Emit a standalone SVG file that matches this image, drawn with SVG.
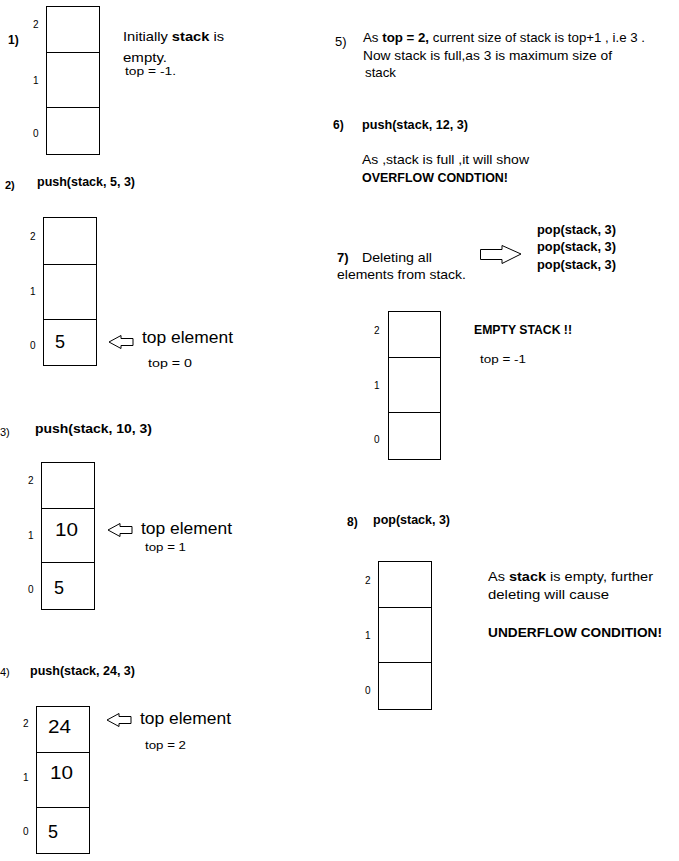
<svg xmlns="http://www.w3.org/2000/svg" width="679" height="861" viewBox="0 0 679 861">
<style>
text{font-family:"Liberation Sans",Arial,sans-serif;fill:#000}
.t{font-size:13px}
.b{font-weight:bold}
.h{font-size:12px;font-weight:bold}
.i{font-size:10px}
.v{font-size:18px}
.te{font-size:17px}
.s{font-size:11px}
.cell{fill:#fff;stroke:#000;stroke-width:1}
.arr{fill:#fff;stroke:#000;stroke-width:1}
</style>
<rect width="679" height="861" fill="#fff"/>

<g id="step1">
<text class="h" x="8" y="44">1)</text>
<rect class="cell" x="46.5" y="6.5" width="53" height="148"/>
<line x1="46.5" y1="52.5" x2="99.5" y2="52.5" stroke="#000"/>
<line x1="46.5" y1="107.5" x2="99.5" y2="107.5" stroke="#000"/>
<text class="i" x="33" y="28">2</text>
<text class="i" x="33" y="84">1</text>
<text class="i" x="33" y="137">0</text>
<text class="t" x="123" y="41" textLength="101" lengthAdjust="spacingAndGlyphs">Initially <tspan class="b">stack</tspan> is</text>
<text class="t" x="123" y="62" textLength="44" lengthAdjust="spacingAndGlyphs">empty.</text>
<text class="s" x="125" y="75" textLength="51" lengthAdjust="spacingAndGlyphs">top = -1.</text>
</g>

<g id="step2">
<text class="s b" x="5" y="189">2)</text>
<text class="h" x="37" y="186" textLength="98" lengthAdjust="spacingAndGlyphs">push(stack, 5, 3)</text>
<rect class="cell" x="43.5" y="217.5" width="53" height="148"/>
<line x1="43.5" y1="264.5" x2="96.5" y2="264.5" stroke="#000"/>
<line x1="43.5" y1="319.5" x2="96.5" y2="319.5" stroke="#000"/>
<text class="i" x="30" y="240">2</text>
<text class="i" x="30" y="295">1</text>
<text class="i" x="30" y="349">0</text>
<text class="v" x="55" y="348">5</text>
<text class="te" x="142" y="343" textLength="91" lengthAdjust="spacingAndGlyphs">top element</text>
<text class="s" x="148" y="367" textLength="44" lengthAdjust="spacingAndGlyphs">top = 0</text>
</g>

<g id="step3">
<text class="s" x="0" y="436">3)</text>
<text class="h" x="35" y="433" textLength="117" lengthAdjust="spacingAndGlyphs">push(stack, 10, 3)</text>
<rect class="cell" x="41.5" y="462.5" width="53" height="147"/>
<line x1="41.5" y1="508.5" x2="94.5" y2="508.5" stroke="#000"/>
<line x1="41.5" y1="562.5" x2="94.5" y2="562.5" stroke="#000"/>
<text class="i" x="28" y="484">2</text>
<text class="i" x="28" y="539">1</text>
<text class="i" x="28" y="593">0</text>
<text class="v" x="55" y="536" textLength="23" lengthAdjust="spacingAndGlyphs">10</text>
<text class="v" x="54" y="594">5</text>
<text class="te" x="141" y="534" textLength="91" lengthAdjust="spacingAndGlyphs">top element</text>
<text class="s" x="145" y="551" textLength="41" lengthAdjust="spacingAndGlyphs">top = 1</text>
</g>

<g id="step4">
<text class="s" x="0" y="676">4)</text>
<text class="h" x="30" y="675" textLength="105" lengthAdjust="spacingAndGlyphs">push(stack, 24, 3)</text>
<rect class="cell" x="36.5" y="706.5" width="53" height="147"/>
<line x1="36.5" y1="752.5" x2="89.5" y2="752.5" stroke="#000"/>
<line x1="36.5" y1="807.5" x2="89.5" y2="807.5" stroke="#000"/>
<text class="i" x="23" y="727">2</text>
<text class="i" x="23" y="781">1</text>
<text class="i" x="23" y="835">0</text>
<text class="v" x="48" y="733" textLength="23" lengthAdjust="spacingAndGlyphs">24</text>
<text class="v" x="50" y="779" textLength="23" lengthAdjust="spacingAndGlyphs">10</text>
<text class="v" x="48" y="838">5</text>
<text class="te" x="140" y="724" textLength="91" lengthAdjust="spacingAndGlyphs">top element</text>
<text class="s" x="145" y="749" textLength="41" lengthAdjust="spacingAndGlyphs">top = 2</text>
</g>

<g id="step5">
<text class="t" x="335" y="46">5)</text>
<text class="t" x="363" y="42" textLength="282" lengthAdjust="spacingAndGlyphs">As <tspan class="b">top = 2,</tspan> current size of stack is top+1 , i.e 3 .</text>
<text class="t" x="363" y="60" textLength="249" lengthAdjust="spacingAndGlyphs">Now stack is full,as  3 is maximum size of</text>
<text class="t" x="365" y="77" textLength="31" lengthAdjust="spacingAndGlyphs">stack</text>
</g>

<g id="step6">
<text class="h" x="333" y="129">6)</text>
<text class="h" x="362" y="129" textLength="106" lengthAdjust="spacingAndGlyphs">push(stack, 12, 3)</text>
<text class="t" x="362" y="164" textLength="167" lengthAdjust="spacingAndGlyphs">As ,stack is full ,it will show</text>
<text class="t b" x="362" y="182" textLength="146" lengthAdjust="spacingAndGlyphs">OVERFLOW CONDTION!</text>
</g>

<g id="step7">
<text class="h" x="537" y="234" textLength="79" lengthAdjust="spacingAndGlyphs">pop(stack, 3)</text>
<text class="h" x="537" y="251" textLength="79" lengthAdjust="spacingAndGlyphs">pop(stack, 3)</text>
<text class="h" x="537" y="269" textLength="79" lengthAdjust="spacingAndGlyphs">pop(stack, 3)</text>
<text class="t" x="337" y="262"><tspan class="b">7)</tspan></text>
<text class="t" x="362" y="262" textLength="70" lengthAdjust="spacingAndGlyphs">Deleting all</text>
<text class="t" x="337" y="279" textLength="129" lengthAdjust="spacingAndGlyphs">elements from stack.</text>
<rect class="cell" x="388.5" y="311.5" width="52" height="148"/>
<line x1="388.5" y1="357.5" x2="440.5" y2="357.5" stroke="#000"/>
<line x1="388.5" y1="412.5" x2="440.5" y2="412.5" stroke="#000"/>
<text class="i" x="374" y="334">2</text>
<text class="i" x="374" y="389">1</text>
<text class="i" x="374" y="443">0</text>
<text class="h" x="474" y="334" textLength="98" lengthAdjust="spacingAndGlyphs">EMPTY STACK !!</text>
<text class="s" x="480" y="363" textLength="46" lengthAdjust="spacingAndGlyphs">top = -1</text>
</g>

<g id="step8">
<text class="h" x="347" y="526">8)</text>
<text class="h" x="373" y="524" textLength="77" lengthAdjust="spacingAndGlyphs">pop(stack, 3)</text>
<rect class="cell" x="378.5" y="561.5" width="53" height="148"/>
<line x1="378.5" y1="607.5" x2="431.5" y2="607.5" stroke="#000"/>
<line x1="378.5" y1="662.5" x2="431.5" y2="662.5" stroke="#000"/>
<text class="i" x="365" y="584">2</text>
<text class="i" x="365" y="639">1</text>
<text class="i" x="365" y="694">0</text>
<text class="t" x="488" y="581" textLength="165" lengthAdjust="spacingAndGlyphs">As <tspan class="b">stack</tspan> is empty, further</text>
<text class="t" x="488" y="599" textLength="121" lengthAdjust="spacingAndGlyphs">deleting will cause</text>
<text class="t b" x="488" y="637" textLength="174" lengthAdjust="spacingAndGlyphs">UNDERFLOW CONDITION!</text>
</g>

<g id="connectors">
<polygon class="arr" points="109,342 121,335.5 121,338.5 133,338.5 133,345.5 121,345.5 121,348.5"/>
<polygon class="arr" points="108,530 120,523.5 120,526.5 132,526.5 132,533.5 120,533.5 120,536.5"/>
<polygon class="arr" points="107,720 119,713.5 119,716.5 131,716.5 131,723.5 119,723.5 119,726.5"/>
<polygon class="arr" points="521,254 502,245.5 502,249.5 480.5,249.5 480.5,259.5 502,259.5 502,263.5"/>
</g>
</svg>
